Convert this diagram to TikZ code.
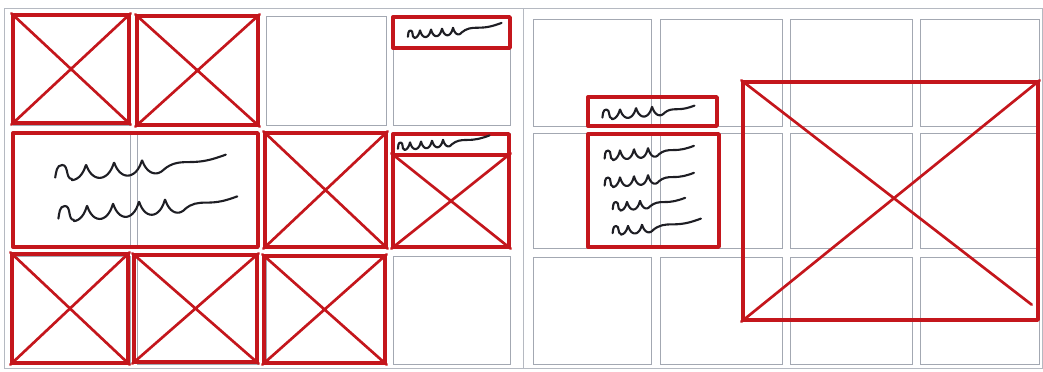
\documentclass[tikz,border=0pt]{standalone}
\usepackage{tikz}
\usetikzlibrary{calc,fit}
\definecolor{SketchRed}{HTML}{C4161C}
\definecolor{GridGray}{HTML}{A3A8B2}
\definecolor{InkBlack}{HTML}{1E1E24}
% handwritten placeholder text: first cusp, u count, u width, u height, tail
\newcommand{\scrawl}[5]{%
  \draw[ink,shift={#1}] (-1.1*#3,0.4*#4) to[out=80,in=180] (-0.85*#3,-0.5*#4)
    to[out=0,in=180] (-0.5*#3,0.5*#4)
    -- plot[smooth,domain=-180:#2*360-120,samples=90,variable=\t]
    ({#3*(\t/360-0.13*sin(\t))},{-#4*0.5*cos(\t)-0.08*#3*\t/360})
    to[out=40,in=180] ++(0.4*#5,-0.12*#5)
    to[out=0,in=200] ++(0.6*#5,-0.12*#5);}

\begin{document}
\begin{tikzpicture}[x=0.025cm,y=-0.025cm,
  cell/.style={draw=GridGray,line width=0.6pt},
  edge/.style={draw=GridGray!80,line width=0.5pt},
  frame/.style={draw=SketchRed,line width=2.4pt,inner sep=0pt,line join=round},
  cross/.style={SketchRed,line width=1.9pt,line cap=round},
  ink/.style={InkBlack,line width=1.5pt,line cap=round,line join=round}]
  \useasboundingbox (0,0) rectangle (1043,372);

  % paper and column grids
  \draw[edge] (4,8) rectangle (1042,368);
  \draw[edge] (523,8) -- (523,368);
  \foreach \xa/\xb in {13/130,137/258,266/386,393/510}
    \foreach \ya/\yb in {16/125,133/248,256/364}
      \draw[cell] (\xa,\ya) rectangle (\xb,\yb);
  \foreach \xa/\xb in {533/651,660/782,790/912,920/1039}
    \foreach \ya/\yb in {19/126,133/248,257/364}
      \draw[cell] (\xa,\ya) rectangle (\xb,\yb);

  % left layout
  \node[frame,fit={(13,15) (129,123)}] (img11) {};
  \node[frame,fit={(137,16) (258,125)}] (img12) {};
  \node[frame,fit={(393,17) (510,48)}] (bar14) {};
  \node[frame,fit={(13,133) (258,247)}] (txt21) {};
  \node[frame,fit={(265,133) (386,247)}] (img23) {};
  \node[frame,fit={(393,134) (509,155)}] (head24) {};
  \node[frame,fit={(393,155) (509,247)}] (img24) {};
  \node[frame,fit={(12,254) (128,363)}] (img31) {};
  \node[frame,fit={(134,255) (257,362)}] (img32) {};
  \node[frame,fit={(264,256) (385,363)}] (img33) {};
  \foreach \n in {img11,img12,img23,img24,img31,img32,img33}
    \draw[cross] (\n.north west) -- (\n.south east)
                 (\n.south west) -- (\n.north east);

  \scrawl{(86,172)}{3}{28}{14}{62}
  \scrawl{(87,213)}{4}{26}{14}{52}
  \scrawl{(420,34)}{4}{11}{7}{40}
  \scrawl{(410,146)}{4}{11}{7}{38}

  % right layout
  \node[frame,fit={(588,97) (717,126)}] (headR) {};
  \node[frame,fit={(588,134) (719,247)}] (bodyR) {};
  \node[frame,fit={(743,82) (1038,320)}] (imgR) {};
  \draw[cross] (imgR.north west) -- ($(imgR.south east)+(-8,-17)$);
  \draw[cross] (imgR.south west) -- (imgR.north east);

  \scrawl{(620,114)}{3}{16}{9}{30}
  \scrawl{(620,155)}{3}{14}{9}{35}
  \scrawl{(620,182)}{3}{14}{9}{35}
  \scrawl{(627,206)}{2}{13}{8}{35}
  \scrawl{(628,230)}{2}{14}{8}{48}
\end{tikzpicture}
\end{document}
